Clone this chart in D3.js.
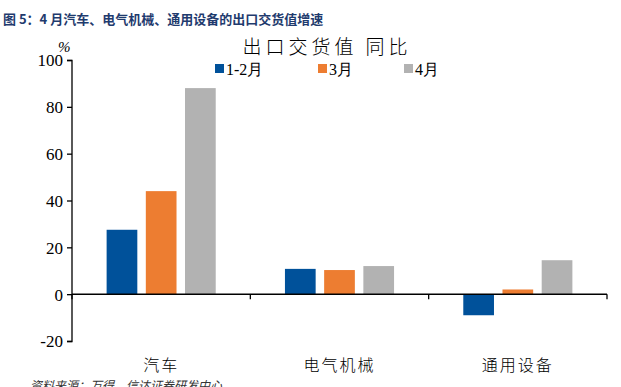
<!DOCTYPE html>
<html><head><meta charset="utf-8">
<script src="https://cdn.jsdelivr.net/npm/d3@7"></script>
<style>body{margin:0;background:#fff;}svg{display:block;}</style>
</head><body>
<script>
const categories = ["汽车", "电气机械", "通用设备"];
const seriesNames = ["1-2月", "3月", "4月"];
const s12 = [27.5, 10.8, -9.0];
const s3 = [44.0, 10.3, 2.0];
const s4 = [88.0, 12.0, 14.5];
const yTicks = [-20, 0, 20, 40, 60, 80, 100];
const colors = ["#00519A", "#ED7D31", "#B2B2B2"];
const seriesVals = [s12, s3, s4];

const W = 621, H = 387;
const svg = d3.select("body").append("svg").attr("width", W).attr("height", H);

const serif = "'Liberation Serif','Times New Roman',serif";
const cjk = "'Noto Sans CJK SC',sans-serif";

svg.append("text").attr("x", 3).attr("y", 24)
  .attr("font-family", cjk).attr("font-weight", "bold").attr("font-size", 13)
  .attr("fill", "#1F3B6E").text("图 5：4 月汽车、电气机械、通用设备的出口交货值增速");

const x0 = d3.scaleBand().domain(categories).range([72, 607]);
const y = d3.scaleLinear().domain([-20, 100]).range([341, 60]);

// bars
const bw = 30.7, pitch = 39.2;
categories.forEach((c, i) => {
  seriesVals.forEach((vals, k) => {
    const v = vals[i];
    const cx = x0(c) + x0.bandwidth() / 2 + (k - 1) * pitch;
    svg.append("rect")
      .attr("x", cx - bw / 2).attr("width", bw)
      .attr("y", y(Math.max(0, v))).attr("height", Math.abs(y(v) - y(0)))
      .attr("fill", colors[k]);
  });
});

// y axis
const yAxis = d3.axisLeft(y).tickValues(yTicks).tickSize(5).tickFormat(d => String(d));
const gy = svg.append("g").attr("transform", "translate(72,0)").call(yAxis);
gy.select(".domain").attr("stroke", "#000").attr("stroke-width", 1.3).attr("d", "M-5,60.5H0V341.5H-5");
gy.selectAll(".tick line").attr("stroke", "#000").attr("stroke-width", 1.3);
gy.selectAll(".tick text").attr("font-family", serif).attr("font-size", 17).attr("fill", "#000").attr("x", -9).attr("dy", "0.35em");

// x axis at 0
const xAxis = d3.axisBottom(x0).tickSize(0).tickFormat("");
const gx = svg.append("g").attr("transform", `translate(0,${y(0)})`).call(xAxis);
gx.select(".domain").attr("stroke", "#000").attr("stroke-width", 1.5).attr("d", "M72,0H607");
const bounds = [72, 72 + x0.bandwidth(), 72 + 2 * x0.bandwidth(), 607];
bounds.forEach(b => {
  svg.append("line").attr("x1", b).attr("x2", b).attr("y1", y(0)).attr("y2", y(0) + 5)
    .attr("stroke", "#000").attr("stroke-width", 1.3);
});

// category labels
categories.forEach(c => {
  svg.append("text").attr("x", x0(c) + x0.bandwidth() / 2).attr("y", 371)
    .attr("text-anchor", "middle").attr("font-family", cjk).attr("font-weight", 300)
    .attr("font-size", 16).attr("letter-spacing", 2).attr("fill", "#000").text(c);
});

// % label
svg.append("text").attr("x", 58).attr("y", 52).attr("font-family", serif).attr("font-style", "italic")
  .attr("font-size", 15).attr("fill", "#000").text("%");

// chart title
svg.append("text").attr("x", 327).attr("y", 54).attr("text-anchor", "middle")
  .attr("font-family", cjk).attr("font-weight", 300).attr("font-size", 19).attr("letter-spacing", 4)
  .attr("fill", "#000").text("出口交货值 同比");

// legend
const legX = [215, 318, 404];
seriesNames.forEach((n, k) => {
  svg.append("rect").attr("x", legX[k]).attr("y", 64).attr("width", 9).attr("height", 9).attr("fill", colors[k]);
  svg.append("text").attr("x", legX[k] + 11).attr("y", 75).attr("font-family", serif)
    .attr("font-size", 16).attr("fill", "#000").text(n);
});

// source
svg.append("text").attr("x", 30).attr("y", 390).attr("font-family", cjk).attr("font-style", "italic")
  .attr("font-size", 12).attr("fill", "#333").text("资料来源：万得，信达证券研发中心");
</script>
</body></html>
